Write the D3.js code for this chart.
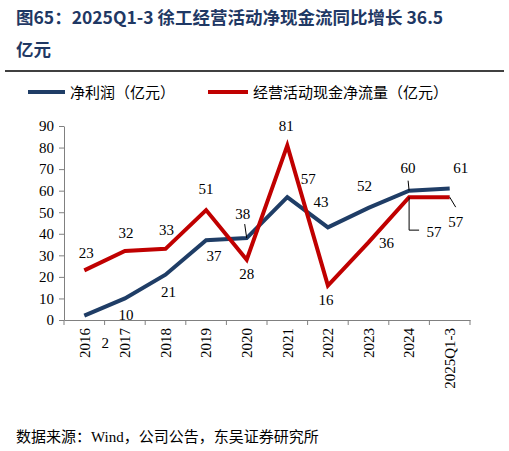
<!DOCTYPE html><html><head><meta charset="utf-8">
<script src="https://cdn.jsdelivr.net/npm/d3@7"></script>
<style>body{margin:0;background:#fff}</style></head><body>
<svg id="c" width="509" height="451"></svg>
<script>
const categories=["2016","2017","2018","2019","2020","2021","2022","2023","2024","2025Q1-3"];
const netProfit=[2,10,21,37,38,57,43,52,60,61];
const cashFlow=[23,32,33,51,28,81,16,36,57,57];
const yTicks=[0,10,20,30,40,50,60,70,80,90];
// label offsets (px) from point
const netOff=[[21,27],[1,16],[3,17],[8,16],[-4,-24],[21,-18],[-7,-26],[-4,-22],[-1,-23],[11,-21]];
const cashOff=[[2,-18],[1,-18],[1,-19],[0,-21],[0,14],[-1,-20],[-2,14],[18,0],[25,35],[6,25]];
const svg=d3.select("#c");
const serif="'Liberation Serif','Times New Roman',serif", cjk="'Noto Sans CJK SC',sans-serif";
svg.append("text").attr("x",16).attr("y",24).attr("fill","#1f3864").attr("font-family",cjk).attr("font-weight","bold").attr("font-size",17.5).text("图65：2025Q1-3 徐工经营活动净现金流同比增长 36.5");
svg.append("text").attr("x",16).attr("y",56).attr("fill","#1f3864").attr("font-family",cjk).attr("font-weight","bold").attr("font-size",17.5).text("亿元");
svg.append("line").attr("x1",5).attr("x2",504).attr("y1",71).attr("y2",71).attr("stroke","#000").attr("stroke-width",1.5);
const navy="#1f3d66", red="#c00000";
svg.append("line").attr("x1",28).attr("x2",65).attr("y1",92).attr("y2",92).attr("stroke",navy).attr("stroke-width",4);
svg.append("text").attr("x",70).attr("y",98).attr("font-family",cjk).attr("font-size",15).text("净利润（亿元）");
svg.append("line").attr("x1",208).attr("x2",248).attr("y1",92).attr("y2",92).attr("stroke",red).attr("stroke-width",4);
svg.append("text").attr("x",253).attr("y",98).attr("font-family",cjk).attr("font-size",15).text("经营活动现金净流量（亿元）");
const x=d3.scaleBand().domain(categories).range([64,470]);
const y=d3.scaleLinear().domain([0,90]).range([320,126]);
const cx=d=>x(d)+x.bandwidth()/2;
const ya=svg.append("g").attr("transform","translate(64,0)").call(d3.axisLeft(y).tickValues(yTicks).tickSize(5).tickSizeOuter(0));
const xa=svg.append("g").attr("transform","translate(0,320)").call(d3.axisBottom(x).tickSize(5).tickSizeOuter(0));
[ya,xa].forEach(a=>{a.selectAll("path,line").attr("stroke","#808080");a.selectAll("text").attr("font-family",serif).attr("font-size",15).attr("fill","#000");});
ya.selectAll("text").attr("dx",-2);
xa.selectAll(".tick line").attr("transform",`translate(${x.bandwidth()/2},0)`);
xa.append("line").attr("x1",64).attr("x2",64).attr("y1",0).attr("y2",5).attr("stroke","#808080");
xa.selectAll("text").attr("transform","rotate(-90)").attr("text-anchor","end").attr("x",-8).attr("y",0).attr("dy","0.35em");
const line=d3.line().x((d,i)=>cx(categories[i])).y(d=>y(d));
svg.append("path").datum(netProfit).attr("d",line).attr("fill","none").attr("stroke",navy).attr("stroke-width",4);
svg.append("path").datum(cashFlow).attr("d",line).attr("fill","none").attr("stroke",red).attr("stroke-width",4);
function labels(arr,off){arr.forEach((v,i)=>{svg.append("text").attr("x",cx(categories[i])+off[i][0]).attr("y",y(v)+off[i][1]).attr("text-anchor","middle").attr("dy","0.35em").attr("font-family",serif).attr("font-size",15).text(v);});}
labels(netProfit,netOff);labels(cashFlow,cashOff);
const L=(pts)=>svg.append("path").attr("d",d3.line()(pts)).attr("fill","none").attr("stroke","#000").attr("stroke-width",1);
const p=(i,v)=>[cx(categories[i]),y(v)];
L([[p(4,38)[0]-2,p(4,38)[1]-14],[p(4,38)[0],p(4,38)[1]]]);
L([[p(8,60)[0]-1,p(8,60)[1]-10],[p(8,60)[0],p(8,60)[1]]]);
L([p(8,57),[p(8,57)[0],p(8,57)[1]+33],[p(8,57)[0]+10,p(8,57)[1]+33]]);
L([p(9,57),[p(9,57)[0]+6,p(9,57)[1]+10]]);
svg.append("text").attr("x",16).attr("y",442).attr("font-family",serif+","+cjk).attr("font-size",15).text("数据来源：Wind，公司公告，东吴证券研究所");
</script></body></html>
